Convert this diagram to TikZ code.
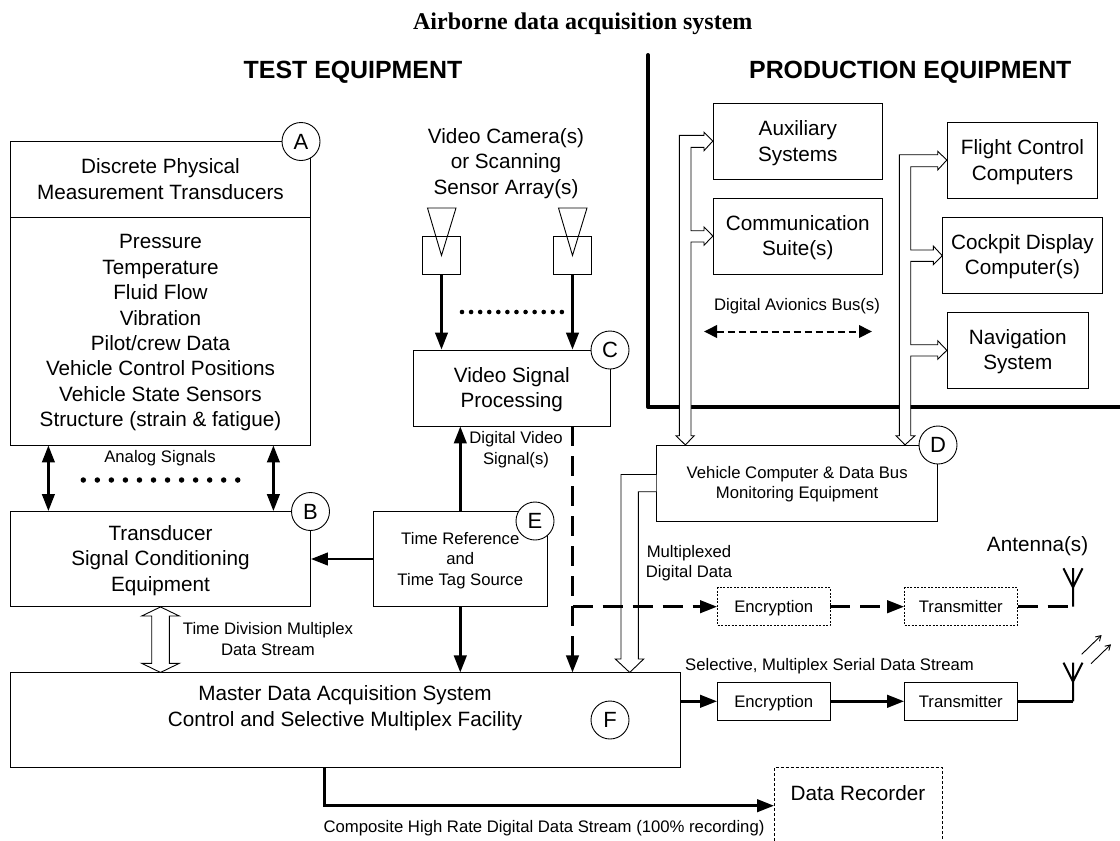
\documentclass[tikz,border=0pt]{standalone}
\usepackage{fontspec}
\setmainfont{Liberation Sans}
\newfontfamily\serifb{Liberation Serif}
\usetikzlibrary{arrows.meta,calc}
\newcommand{\fsA}{\fontsize{20.7}{25.4}\selectfont}
\newcommand{\fsB}{\fontsize{16.7}{20.5}\selectfont}
\newcommand{\lowerfirst}{\rule{0pt}{0.87em}}
\tikzset{
  x=1pt,y=-1pt,
  box/.style={draw=black,line width=0.9pt,fill=white,inner sep=0pt,align=center,font=\fsA},
  smallbox/.style={box,font=\fsB},
  single/.style={smallbox,text height=12pt,text depth=0pt},
  dotbox/.style={single,dash pattern=on 2pt off 1.5pt},
  letter/.style={circle,draw=black,line width=0.9pt,fill=white,minimum size=38pt,inner sep=0pt,font=\fontsize{22}{24}\selectfont},
  label/.style={inner sep=0pt,align=center,font=\fsB},
  big/.style={inner sep=0pt,align=center,font=\fsA},
  head/.style={inner sep=0pt,font=\fontsize{24.9}{28}\selectfont\bfseries},
  flow/.style={line width=2.7pt,-{Triangle[length=17pt,width=12.5pt]}},
  biflow/.style={line width=2.7pt,{Triangle[length=17pt,width=12.5pt]}-{Triangle[length=17pt,width=12.5pt]}},
  longdash/.style={dash pattern=on 20pt off 10pt},
  hollow/.style={draw=black,line width=0.9pt,fill=white,line join=miter},
  ant/.style={line width=2pt},
}
\begin{document}
\begin{tikzpicture}
\useasboundingbox (0,0) rectangle (1120,841);
\fill[white] (0,0) rectangle (1120,841);
% headings
\node[inner sep=0pt,font=\serifb\fontsize{24}{26}\selectfont\bfseries] (title) at (582.8,24) {Airborne data acquisition system};
\node[head] (testh) at (353,72) {TEST EQUIPMENT};
\node[head] (prodh) at (910.3,72) {PRODUCTION EQUIPMENT};
% divider
\coordinate (divT) at (648,55);
\coordinate (divC) at (648,407);
\coordinate (divR) at (1120,407);
\draw[line width=4pt,line join=round,line cap=round] (divT) -- (divC) -- (divR);
% A
\node[box,minimum width=300pt,minimum height=76pt] (Atop) at (160.5,179) {Discrete Physical\\Measurement Transducers};
\node[box,minimum width=300pt,minimum height=228pt] (Alist) at (160.5,331) {\lowerfirst Pressure\\Temperature\\Fluid Flow\\Vibration\\Pilot/crew Data\\Vehicle Control Positions\\Vehicle State Sensors\\Structure (strain \& fatigue)};
% B
\node[box,minimum width=300pt,minimum height=95pt] (B) at (160.5,559) {\lowerfirst Transducer\\Signal Conditioning\\Equipment};
% E
\node[smallbox,minimum width=173.5pt,minimum height=95pt] (E) at (460.3,559) {\lowerfirst Time Reference\\and\\Time Tag Source};
% C
\node[box,minimum width=196.5pt,minimum height=76pt] (C) at (511.8,388) {\lowerfirst Video Signal\\Processing};
% cameras
\node[draw=black,line width=0.9pt,minimum width=37.5pt,minimum height=38pt,inner sep=0pt] (camL) at (441.5,255.5) {};
\node[draw=black,line width=0.9pt,minimum width=37.5pt,minimum height=38pt,inner sep=0pt] (camR) at (572.5,255.5) {};
\draw[line width=0.9pt,line join=miter] (camL.center) -- (427.5,208) -- (456,208) -- cycle;
\draw[line width=0.9pt,line join=miter] (camR.center) -- (558.5,208) -- (587,208) -- cycle;
\node[big] (camtext) at (506,163.5) {Video Camera(s)\\or Scanning\\Sensor Array(s)};
% D
\node[smallbox,minimum width=281pt,minimum height=75.7pt] (D) at (797.2,483.2) {\lowerfirst Vehicle Computer \& Data Bus\\Monitoring Equipment};
% F
\node[box,minimum width=669.7pt,minimum height=95pt] (F) at (345.35,720.4) {};
\node[big] (Ftext) at (345,708) {Master Data Acquisition System\\Control and Selective Multiplex Facility};
% production boxes
\node[box,minimum width=169pt,minimum height=75.6pt] (aux) at (797.8,141.5) {\lowerfirst Auxiliary\\Systems};
\node[box,minimum width=169pt,minimum height=76pt] (comm) at (797.8,236.3) {\lowerfirst Communication\\Suite(s)};
\node[box,minimum width=150.4pt,minimum height=75.6pt] (flight) at (1022.5,160.5) {\lowerfirst Flight Control\\Computers};
\node[box,minimum width=159.6pt,minimum height=76pt] (cockpit) at (1022.5,255.3) {\lowerfirst Cockpit Display\\Computer(s)};
\node[box,minimum width=141pt,minimum height=76pt] (nav) at (1017.8,350.3) {\lowerfirst Navigation\\System};
% buses
\draw[hollow] (685.3,0 |- D.north) -- (694.3,435.7) -- (691,435.7) -- (691,242) -- (704,242) -- (704,245.3) -- (comm.west |- 0,236) -- (704,227) -- (704,230.7) -- (691,230.7) -- (691,147.3) -- (704,147.3) -- (704,150.7) -- (aux.west |- 0,141) -- (704,132.3) -- (704,135.3) -- (679.3,135.3) -- (679.3,435.7) -- (676,435.7) -- cycle;
\draw[hollow] (905,0 |- D.north) -- (915,435.7) -- (910.7,435.7) -- (910.7,356) -- (937.7,356) -- (937.7,359.3) -- (nav.west |- 0,350.3) -- (937.7,340.7) -- (937.7,344.7) -- (910.7,344.7) -- (910.7,261.3) -- (933.3,261.3) -- (933.3,264.7) -- (cockpit.west |- 0,255.7) -- (933.3,246) -- (933.3,250) -- (910.7,250) -- (910.7,166.7) -- (937.7,166.7) -- (937.7,170) -- (flight.west |- 0,160) -- (937.7,151.3) -- (937.7,154.7) -- (899.3,154.7) -- (899.3,435.7) -- (896,435.7) -- cycle;
% hollow D->F
\draw[hollow] (D.west |- 0,474.5) -- (621,474.5) -- (621,659) -- (615.3,659) -- (629.7,0 |- F.north) -- (643.7,659) -- (638.3,659) -- (638.3,491.7) -- (D.west |- 0,491.7);
% hollow B<->F
\draw[hollow] (160.5,0 |- B.south) -- (179.3,616) -- (169.3,616) -- (169.3,663.3) -- (179.3,663.3) -- (160.5,0 |- F.north) -- (141.7,663.3) -- (151.7,663.3) -- (151.7,616) -- (141.7,616) -- cycle;
% analog
\coordinate (anL) at (48.4,0);
\coordinate (anR) at (273.4,0);
\draw[biflow] (anL |- Alist.south) -- (anL |- B.north);
\draw[biflow] (anR |- Alist.south) -- (anR |- B.north);
\node[label] (analog) at (160,458) {Analog Signals};
\coordinate (d1a) at (83.3,480);
\coordinate (d1b) at (238.5,480);
\draw[line width=5.5pt,line cap=round,dash pattern=on 0pt off 14.04pt] (d1a) -- (d1b);
% camera flows
\draw[flow] (camL.south) -- (camL |- C.north);
\draw[flow] (camR.south) -- (camR |- C.north);
\coordinate (d2a) at (462,312);
\coordinate (d2b) at (563,312);
\draw[line width=4.6pt,line cap=round,dash pattern=on 0pt off 9.08pt] (d2a) -- (d2b);
% E flows
\draw[flow] (E.west) -- (B.east |- E.west);
\draw[flow] (E.north) -- (E.north |- C.south);
\draw[flow] (E.south) -- (E.south |- F.north);
% text labels
\node[label] (dvs) at (516,449.5) {Digital Video\\Signal(s)};
\node[label] (tdm) at (268,639) {Time Division Multiplex\\Data Stream};
\node[label] (avi) at (797,306) {Digital Avionics Bus(s)};
\node[label] (mux) at (689,563) {Multiplexed\\Digital Data};
\node[label] (sel) at (829.5,666) {Selective, Multiplex Serial Data Stream};
\node[label] (comp) at (544,828.5) {Composite High Rate Digital Data Stream (100\% recording)};
\node[big] (anttext) at (1037.6,546) {Antenna(s)};
% avionics bus arrow
\coordinate (busL) at (704,331.5);
\coordinate (busR) at (872,331.5);
\draw[line width=2pt,dash pattern=on 7pt off 4pt,{Triangle[length=13pt,width=12.5pt]}-{Triangle[length=13pt,width=12.5pt]}] (busL) -- (busR);
% encryption rows
\node[dotbox,minimum width=112.5pt,minimum height=38pt] (enc1) at (773.75,606.7) {Encryption};
\node[dotbox,minimum width=112.5pt,minimum height=38pt] (tx1) at (960.8,606.7) {Transmitter};
\node[single,minimum width=112.5pt,minimum height=38pt] (enc2) at (773.75,701.3) {Encryption};
\node[single,minimum width=112.5pt,minimum height=38pt] (tx2) at (960.8,701.3) {Transmitter};
% dashed video
\coordinate (vid) at (572.5,0);
\draw[flow,longdash] (vid |- C.south) -- (vid |- F.north);
\coordinate (vidJ) at (vid |- enc1.west);
\draw[flow,longdash] (vidJ) -- (enc1.west);
\draw[flow,dash pattern=on 20pt off 10pt] (enc1.east) -- (tx1.west);
\coordinate (ant1) at (1073,606.7);
\coordinate (ant1top) at (1073,568);
\draw[line width=2.7pt,dash pattern=on 20pt off 10pt] (tx1.east) -- (ant1);
\draw[ant] (ant1) -- (ant1top) (1063.5,568.3) -- (1073,587.5) -- (1082.5,568.3);
% solid row
\draw[flow] (F.east |- enc2.west) -- (enc2.west);
\draw[flow] (enc2.east) -- (tx2.west);
\coordinate (ant2) at (1073,701.3);
\coordinate (ant2top) at (1073,662.7);
\draw[line width=2.7pt] (tx2.east) -- (ant2);
\draw[ant] (ant2) -- (ant2top) (1063.5,662.7) -- (1073,681.7) -- (1082.5,662.7);
\draw[line width=0.9pt,-{Straight Barb[length=5pt,width=6pt]}] (1081.7,654.3) -- (1101.6,635);
\draw[line width=0.9pt,-{Straight Barb[length=5pt,width=6pt]}] (1091,663.7) -- (1111,644.3);
% recorder
\node[big] (rectext) at (858,793.5) {Data Recorder};
\coordinate (recTL) at (774,767.7);
\coordinate (recTR) at (942,767.7);
\coordinate (recBL) at (774,841);
\coordinate (recBR) at (942,841);
\draw[line width=0.9pt,dash pattern=on 3pt off 2pt] (recBL) -- (recTL) -- (recTR) -- (recBR);
\coordinate (recIn) at (774,805.7);
\draw[flow] (324.7,0 |- F.south) -- (324.7,805.7) -- (recIn);
% letters
\node[letter] (lA) at (301,141.5) {A};
\node[letter] (lB) at (310.5,511.5) {B};
\node[letter] (lC) at (610,350) {C};
\node[letter] (lD) at (938,445) {D};
\node[letter] (lE) at (535,521) {E};
\node[letter] (lF) at (610,720) {F};
\end{tikzpicture}
\end{document}
